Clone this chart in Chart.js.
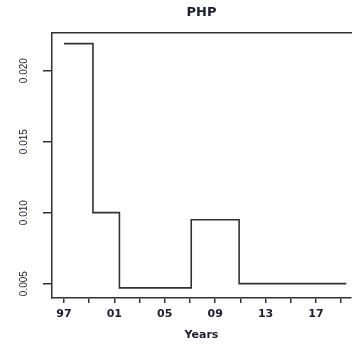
<!DOCTYPE html>
<html lang="en">
<head>
    <meta charset="UTF-8">
    <title>PHP</title>
    <script src="https://cdn.jsdelivr.net/npm/chart.js"></script>
    <style>
        body { margin: 0; background: #fff; }
        #grafico { display: block; }
    </style>
</head>
<body>
<canvas id="grafico" width="361" height="347"></canvas>
<script>
    // valores (degraus)
    const anos = [1997, 1999.3, 2001.4, 2007.1, 2010.9, 2019.4];
    const valores = [0.0219, 0.0100, 0.0047, 0.0095, 0.0050, 0.0050];

    const ticksX = [1997, 1999, 2001, 2003, 2005, 2007, 2009, 2011, 2013, 2015, 2017, 2019];
    const rotulosX = ['97', '', '01', '', '05', '', '09', '', '13', '', '17', ''];
    const ticksY = [0.005, 0.010, 0.015, 0.020];

    const corLinha = '#333333';
    const corTexto = '#1e1e2e';

    const ctx = document.getElementById('grafico').getContext('2d');

    new Chart(ctx, {
        type: 'line',
        data: {
            datasets: [{
                data: anos.map((a, i) => ({ x: a, y: valores[i] })),
                stepped: true,
                borderColor: corLinha,
                borderWidth: 1.6,
                pointRadius: 0,
                fill: false
            }]
        },
        options: {
            responsive: false,
            animation: false,
            layout: { padding: { left: 0, right: 10, top: 0, bottom: 0 } },
            plugins: {
                legend: { display: false },
                tooltip: { enabled: false }
            },
            scales: {
                x: {
                    type: 'linear',
                    position: 'bottom',
                    min: 1996.05,
                    max: 2019.78,
                    afterBuildTicks: s => { s.ticks = ticksX.map(v => ({ value: v })); },
                    afterFit: s => { s.height = 49; },
                    grid: { drawOnChartArea: false, drawTicks: true, tickLength: 5, color: corLinha, lineWidth: 1.5 },
                    border: { display: true, color: corLinha, width: 1.5 },
                    ticks: {
                        autoSkip: false,
                        maxRotation: 0,
                        padding: 5,
                        color: corTexto,
                        font: { family: 'DejaVu Sans', size: 11, weight: 'bold' },
                        callback: (v) => {
                            const i = ticksX.indexOf(v);
                            return i >= 0 ? rotulosX[i] : '';
                        }
                    },
                    title: {
                        display: true,
                        text: 'Years',
                        color: corTexto,
                        padding: { top: 0, bottom: 5 },
                        font: { family: 'DejaVu Sans', size: 11, weight: 'bold' }
                    }
                },
                topo: {
                    type: 'linear',
                    position: 'top',
                    min: 1996.05,
                    max: 2019.78,
                    afterFit: s => { s.height = 33; },
                    grid: { display: false },
                    border: { display: true, color: corLinha, width: 1.5 },
                    ticks: { display: false },
                    title: {
                        display: true,
                        text: 'PHP',
                        color: corTexto,
                        padding: { top: 5, bottom: 0 },
                        font: { family: 'DejaVu Sans', size: 13, weight: 'bold' }
                    }
                },
                y: {
                    type: 'linear',
                    position: 'left',
                    min: 0.00399,
                    max: 0.02265,
                    afterBuildTicks: s => { s.ticks = ticksY.map(v => ({ value: v })); },
                    afterFit: s => { s.width = 52; },
                    grid: { drawOnChartArea: false, drawTicks: true, tickLength: 9, color: corLinha, lineWidth: 1.5 },
                    border: { display: true, color: corLinha, width: 1.5 },
                    ticks: {
                        autoSkip: false,
                        minRotation: 90,
                        maxRotation: 90,
                        crossAlign: 'center',
                        padding: 6,
                        color: corTexto,
                        font: { family: 'Liberation Sans', size: 10 },
                        callback: v => v.toFixed(3)
                    }
                }
            }
        }
    });
</script>
</body>
</html>
